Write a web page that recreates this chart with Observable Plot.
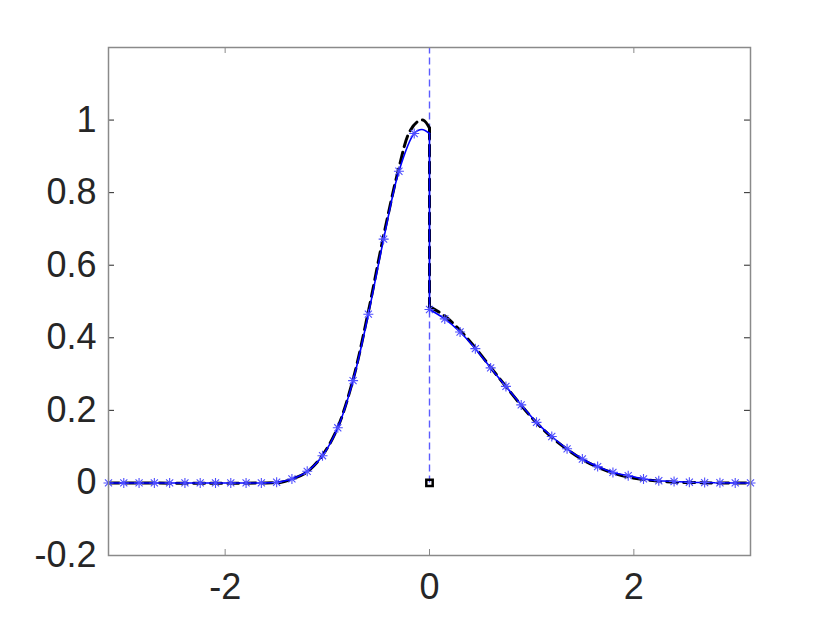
<!DOCTYPE html>
<html><head><meta charset="utf-8">
<script src="https://cdn.jsdelivr.net/npm/d3@7"></script>
<script src="https://cdn.jsdelivr.net/npm/@observablehq/plot@0.6"></script>
<style>body{margin:0;background:#fff}</style>
</head><body><div id="chart"></div>
<script>
// Sampled (blue) solution on the grid
const sampleX = [-3.1416,-2.9920,-2.8424,-2.6928,-2.5432,-2.3936,-2.2440,-2.0944,-1.9448,-1.7952,-1.6456,
  -1.4960,-1.3464,-1.1968,-1.0472,-0.8976,-0.7480,-0.5984,-0.4488,-0.2992,-0.1496,
  0,0.1496,0.2992,0.4488,0.5984,0.7480,0.8976,1.0472,1.1968,1.3464,1.4960,1.6456,1.7952,1.9448,2.0944,2.2440,2.3936,2.5432,2.6928,2.8424,2.9920,3.1416];
const sampleY = [0,0,0,0,0,0,0,0,0,0,0,
  0.002,0.011,0.032,0.075,0.152,0.282,0.465,0.672,0.859,0.963,
  0.478,0.452,0.416,0.370,0.317,0.266,0.215,0.167,0.128,0.094,0.066,0.045,0.029,0.020,0.011,0.006,0.004,0.002,0.001,0.0005,0,0];
// blue curve between last grid point and the jump (peak, then left limit at 0)
const leftEndX = [-0.075, 0];
const leftEndY = [0.974, 0.963];

// Exact (black dashed) solution
const exactLeftX = [-3.1416,-1.6,-1.45,-1.35,-1.2,-1.05,-0.9,-0.75,-0.6,-0.45,-0.3,-0.2,-0.12,-0.06,0];
const exactLeftY = [0,0,0.002,0.01,0.03,0.075,0.152,0.283,0.47,0.68,0.868,0.965,0.995,1.0,0.978];
const exactRightX = [0,0.15,0.3,0.45,0.6,0.75,0.9,1.05,1.2,1.35,1.5,1.65,1.8,1.95,2.1,2.25,2.4,2.6,2.8,3.1416];
const exactRightY = [0.486,0.46,0.42,0.372,0.318,0.265,0.213,0.165,0.125,0.092,0.064,0.043,0.027,0.016,0.009,0.005,0.002,0.001,0,0];

// jump location and marker
const jumpX = [0];
const jumpSpanY = [0, 1.2];
const originPoint = [{x: 0, y: 0}];

const xTicks = [-2, 0, 2];
const yTicks = [-0.2, 0, 0.2, 0.4, 0.6, 0.8, 1];
const xDomain = [-Math.PI, Math.PI];
const yDomain = [-0.2, 1.2];

const pts = (xs, ys) => xs.map((x, i) => ({x, y: ys[i]}));
const samples = pts(sampleX, sampleY);
const leftEnd = pts(leftEndX, leftEndY);
const blueLeft = pts(sampleX.slice(0, 21), sampleY.slice(0, 21)).concat(leftEnd);
const blueRight = samples.slice(21);
const blueJump = [leftEnd[leftEnd.length - 1], samples[21]];
const blackLeft = pts(exactLeftX, exactLeftY);
const blackRight = pts(exactRightX, exactRightY);
const blackJump = [blackLeft[blackLeft.length - 1], blackRight[0]];

const matlabStar = {
  draw(ctx, size) {
    const r = Math.sqrt(size / Math.PI);
    const d = r * Math.SQRT1_2;
    ctx.moveTo(-r, 0); ctx.lineTo(r, 0);
    ctx.moveTo(0, -r); ctx.lineTo(0, r);
    ctx.moveTo(-d, -d); ctx.lineTo(d, d);
    ctx.moveTo(-d, d); ctx.lineTo(d, -d);
  }
};

const W = 830, H = 623, mL = 108, mR = 80, mT = 47, mB = 68;
const fw = W - mL - mR, fh = H - mT - mB, tk = 6;
const txt = "#262626", boxC = "#8a8a8a";
const blackDash = {stroke: "black", strokeWidth: 3, strokeDasharray: "11,6"};

const plot = Plot.plot({
  width: W, height: H,
  marginLeft: mL, marginRight: mR, marginTop: mT, marginBottom: mB,
  x: {domain: xDomain},
  y: {domain: yDomain},
  style: {fontFamily: "'Liberation Sans', Arial, sans-serif", color: txt, background: "white"},
  marks: [
    Plot.gridY(yTicks, {stroke: txt, strokeOpacity: 1, insetRight: fw - tk}),
    Plot.gridY(yTicks, {stroke: txt, strokeOpacity: 1, insetLeft: fw - tk}),
    Plot.gridX(xTicks, {stroke: boxC, strokeOpacity: 1, insetTop: fh - tk}),
    Plot.gridX(xTicks, {stroke: boxC, strokeOpacity: 1, insetBottom: fh - tk}),
    Plot.axisY(yTicks, {anchor: "left", tickSize: 0, tickPadding: 12, label: null, fontSize: 36, tickFormat: d => String(d), fill: txt}),
    Plot.axisX(xTicks, {anchor: "bottom", tickSize: 0, tickPadding: 18, label: null, fontSize: 36, tickFormat: d => String(d), fill: txt}),
    Plot.ruleX(jumpX, {y1: jumpSpanY[0], y2: jumpSpanY[1], stroke: "#5c5cff", strokeWidth: 1.4, strokeDasharray: "7,4"}),
    Plot.line(blackLeft, {x: "x", y: "y", curve: "catmull-rom", ...blackDash}),
    Plot.line(blackJump, {x: "x", y: "y", ...blackDash}),
    Plot.line(blackRight, {x: "x", y: "y", curve: "catmull-rom", ...blackDash}),
    Plot.line(blueLeft, {x: "x", y: "y", curve: "catmull-rom", stroke: "#0000ff", strokeWidth: 1.6}),
    Plot.line(blueJump, {x: "x", y: "y", stroke: "#0000ff", strokeWidth: 1.6}),
    Plot.line(blueRight, {x: "x", y: "y", curve: "catmull-rom", stroke: "#0000ff", strokeWidth: 1.6}),
    Plot.dot(samples, {x: "x", y: "y", symbol: matlabStar, r: 5, stroke: "#4d4dff", strokeWidth: 1.1, fill: "none"}),
    Plot.dot(originPoint, {x: "x", y: "y", symbol: "square", r: 3.6, stroke: "black", strokeWidth: 2.5, fill: "none"}),
    Plot.frame({stroke: boxC, strokeWidth: 1.5})
  ]
});
document.getElementById("chart").append(plot);
</script>
</body></html>
